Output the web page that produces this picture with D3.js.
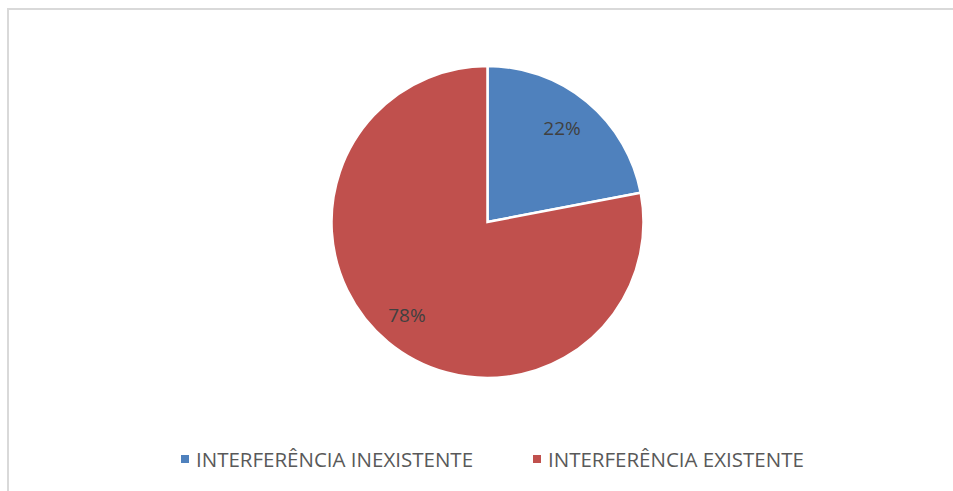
<!DOCTYPE html>
<html>
<head>
<meta charset="utf-8">
<script src="https://cdn.jsdelivr.net/npm/d3@7"></script>
<style>
  body { margin: 0; background: #fff; }
  text { font-family: "Open Sans", sans-serif; }
</style>
</head>
<body>
<script>
    // valores do grafico
    let categories = ["INTERFERÊNCIA INEXISTENTE", "INTERFERÊNCIA EXISTENTE"];
    let values = [22, 78];
    let colors = ["#4F81BD", "#C0504D"];

    let w = 953;
    let h = 491;
    let cx = 487.5, cy = 222, r = 156;

    let svg = d3.select("body")
        .append("svg")
        .attr("width", w)
        .attr("height", h);

    // moldura do grafico
    svg.append("rect")
        .attr("x", 8)
        .attr("y", 9)
        .attr("width", w + 20)
        .attr("height", h + 20)
        .attr("fill", "none")
        .attr("stroke", "#d9d9d9")
        .attr("stroke-width", 2);

    let pie = d3.pie().sort(null)(values);
    let arc = d3.arc().innerRadius(0).outerRadius(r);
    let labelArc = d3.arc().innerRadius(r * 0.78).outerRadius(r * 0.78);

    let g = svg.append("g").attr("transform", "translate(" + cx + "," + cy + ")");

    g.selectAll("path")
        .data(pie)
        .enter()
        .append("path")
        .attr("d", arc)
        .attr("fill", (d, i) => colors[i])
        .attr("stroke", "#fff")
        .attr("stroke-width", 2.5);

    g.selectAll("text.lbl")
        .data(pie)
        .enter()
        .append("text")
        .attr("class", "lbl")
        .attr("x", d => labelArc.centroid(d)[0] - 3)
        .attr("y", d => labelArc.centroid(d)[1])
        .attr("dy", "0.35em")
        .attr("text-anchor", "middle")
        .attr("font-size", "19px")
        .attr("fill", "#404040")
        .text(d => d.data + "%");

    // legenda
    let legendX = [181, 533];
    let leg = svg.selectAll("g.leg")
        .data(categories)
        .enter()
        .append("g")
        .attr("class", "leg")
        .attr("transform", (d, i) => "translate(" + legendX[i] + ",0)");

    leg.append("rect")
        .attr("x", 0)
        .attr("y", 455)
        .attr("width", 8)
        .attr("height", 8)
        .attr("fill", (d, i) => colors[i]);

    leg.append("text")
        .attr("x", 15)
        .attr("y", 467)
        .attr("font-size", "20.5px")
        .attr("fill", "#595959")
        .text(d => d);
</script>
</body>
</html>
